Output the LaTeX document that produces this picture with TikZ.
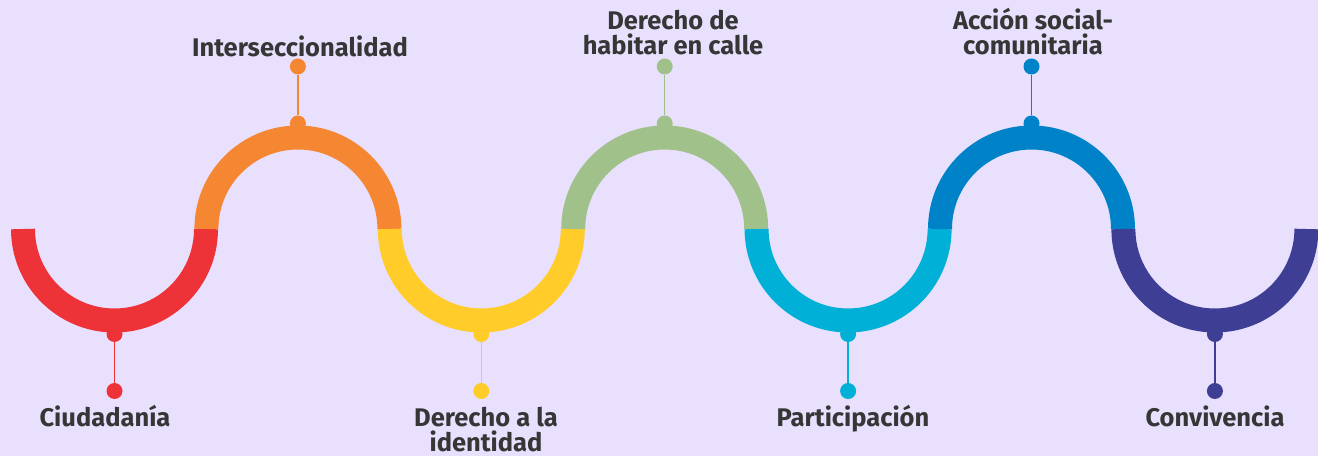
\documentclass[tikz,border=0pt]{standalone}
\usepackage{fontspec}
\setmainfont{Fira Sans}
\definecolor{bg}{HTML}{E8E0FD}
\definecolor{txt}{HTML}{363636}
\definecolor{cred}{HTML}{EE3338}
\definecolor{corange}{HTML}{F58733}
\definecolor{cyellow}{HTML}{FFCC29}
\definecolor{cgreen}{HTML}{A1C18A}
\definecolor{ccyan}{HTML}{00B0D6}
\definecolor{cblue}{HTML}{0082C8}
\definecolor{cnavy}{HTML}{3E3F94}
\begin{document}
\begin{tikzpicture}[x=1pt,y=1pt,
  band/.style={line width=24pt,line cap=butt},
  dot/.style={circle,fill=#1,inner sep=0pt,minimum size=16pt},
  stem/.style={draw=#1,line width=1.5pt},
  lbl/.style={font=\fontsize{25.5}{25}\selectfont\bfseries,text=txt,align=center,inner sep=0pt}]
\fill[bg] (0,0) rectangle (1318,456);
\useasboundingbox (0,0) rectangle (1318,456);
% arcs
\draw[band,cred]    (23,227)    arc (180:360:91.5);
\draw[band,corange] (206.4,227) arc (180:0:91.5);
\draw[band,cyellow] (389.8,227) arc (180:360:91.5);
\draw[band,cgreen]  (573.2,227) arc (180:0:91.5);
\draw[band,ccyan]   (756.6,227) arc (180:360:91.5);
\draw[band,cblue]   (940,227)   arc (180:0:91.5);
\draw[band,cnavy]   (1123.4,227) arc (180:360:91.5);
% dots and stems
\node[dot=cred]    (a1) at (114.5,122) {};
\node[dot=cred]    (b1) at (114.5,65) {};
\node[dot=corange] (a2) at (297.9,332.5) {};
\node[dot=corange] (b2) at (297.9,389.5) {};
\node[dot=cyellow] (a3) at (481.3,122) {};
\node[dot=cyellow] (b3) at (481.3,65) {};
\node[dot=cgreen]  (a4) at (664.7,332.5) {};
\node[dot=cgreen]  (b4) at (664.7,389.5) {};
\node[dot=ccyan]   (a5) at (848.1,122) {};
\node[dot=ccyan]   (b5) at (848.1,65) {};
\node[dot=cblue]   (a6) at (1031.5,332.5) {};
\node[dot=cblue]   (b6) at (1031.5,389.5) {};
\node[dot=cnavy]   (a7) at (1214.9,122) {};
\node[dot=cnavy]   (b7) at (1214.9,65) {};
\draw[stem=cred]    (a1) -- (b1);
\draw[stem=corange] (a2) -- (b2);
\draw[stem=cyellow] (a3) -- (b3);
\draw[stem=cgreen]  (a4) -- (b4);
\draw[stem=ccyan]   (a5) -- (b5);
\draw[stem=cblue]   (a6) -- (b6);
\draw[stem=cnavy]   (a7) -- (b7);
% labels
\node[lbl,anchor=base] (l1) at (105,30) {Ciudadanía};
\node[lbl,anchor=base] (l2) at (300,399) {Interseccionalidad};
\node[lbl,anchor=base] (l3) at (486,5) {Derecho a la\\identidad};
\node[lbl,anchor=base] (l4) at (673,401) {Derecho de\\habitar en calle};
\node[lbl,anchor=base] (l5) at (853,30) {Participación};
\node[lbl,anchor=base] (l6) at (1033,401) {Acción social-\\comunitaria};
\node[lbl,anchor=base] (l7) at (1215,30) {Convivencia};
\end{tikzpicture}
\end{document}
